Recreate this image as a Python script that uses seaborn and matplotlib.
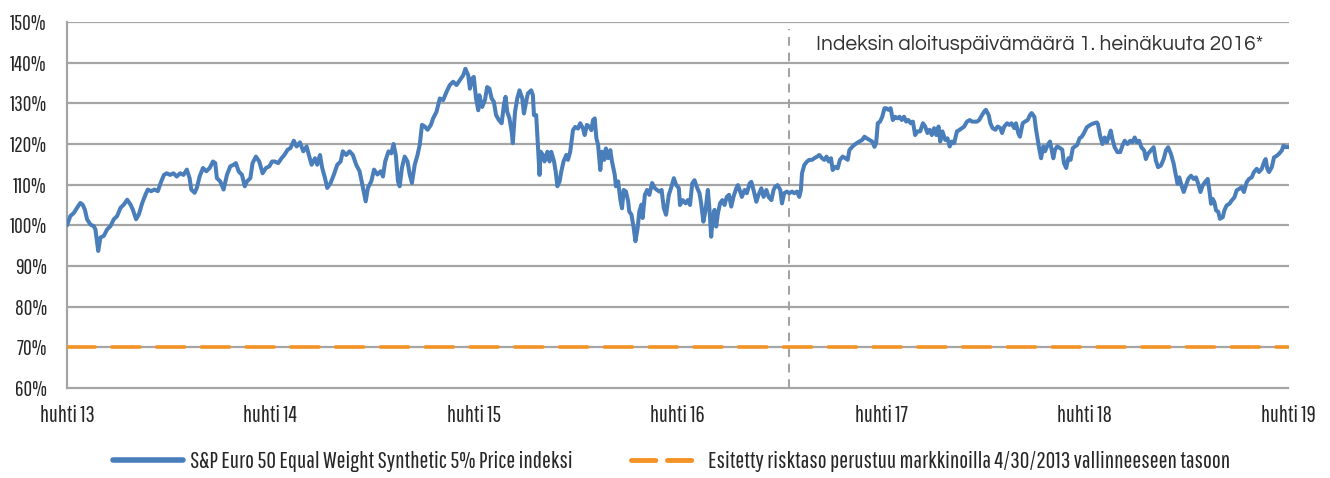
import matplotlib
matplotlib.use("Agg")
import matplotlib.pyplot as plt
import matplotlib.ticker as mticker
import numpy as np
import pandas as pd
import seaborn as sns

# ---------------- data ----------------
base_date = "2013-04-30"
index_days = [
    0, 6, 12, 18, 24, 28, 32, 36, 42, 48, 51, 56, 60, 66, 72, 78, 84, 90, 96, 102, 108, 114, 118, 124, 129, 135,
    141, 145, 151, 157, 163, 168, 174, 179, 185, 191, 197, 203, 209, 215, 220, 223, 229, 233, 238, 244, 250, 256,
    262, 266, 269, 275, 281, 287, 293, 299, 303, 308, 314, 319, 323, 329, 333, 339, 345, 351, 357, 363, 368,
    373, 379, 385, 390, 396, 401, 407, 412, 418, 424, 430, 434, 439, 445, 449, 454, 458, 463, 467, 473, 479, 485,
    491, 495, 501, 507, 513, 519, 525, 530, 536, 540, 546, 551, 557, 563, 567, 571, 577, 582, 586, 590, 594, 597,
    601, 606, 611, 615, 619, 624, 629, 633, 637, 642, 647, 653, 657, 663, 669, 675, 681, 687, 693, 699, 705, 711,
    715, 720, 723, 727,
    730, 734, 738, 740, 745, 750, 754, 758, 762, 766, 770, 775, 780, 784, 787, 790, 794, 798, 800, 804, 808, 812,
    817, 820, 824, 827, 833, 836, 838, 842, 845, 848, 850, 854, 857, 862, 866, 869, 874, 877, 880, 884, 887, 891,
    896, 899, 903, 908, 912, 917, 921, 926, 929, 933, 938, 941, 944, 947, 950, 953, 957, 960, 964, 967, 971, 975,
    978, 983, 985, 989, 993, 996, 999, 1003, 1007, 1009, 1013, 1017, 1020, 1024, 1027, 1031, 1033, 1037, 1041,
    1045, 1050, 1055, 1059, 1063, 1067, 1071, 1075, 1080, 1085, 1089, 1093, 1098,
    1100, 1105, 1110, 1114, 1118, 1122, 1126, 1130, 1135, 1138, 1142, 1146, 1150, 1153, 1156, 1159, 1162, 1165,
    1168, 1172, 1176, 1180, 1184, 1188, 1192, 1196, 1201, 1204, 1207, 1211, 1216, 1220, 1225, 1228, 1232, 1237,
    1241, 1246, 1250, 1255, 1259, 1264, 1268, 1271, 1275, 1280, 1283, 1287, 1292, 1296, 1301, 1305, 1310, 1314,
    1317, 1319, 1323, 1328, 1332, 1337, 1341, 1346, 1350, 1355, 1359, 1363, 1367, 1371, 1374, 1379, 1383, 1387,
    1392, 1397, 1401, 1404, 1409, 1413, 1417, 1422, 1427, 1431, 1435, 1440, 1445, 1449, 1452, 1455, 1459, 1463,
    1467,
    1470, 1474, 1478, 1482, 1486, 1490, 1494, 1498, 1502, 1506, 1510, 1514, 1518, 1522, 1526, 1531, 1536, 1540,
    1544, 1548, 1552, 1556, 1560, 1564, 1567, 1571, 1576, 1580, 1584, 1588, 1592, 1597, 1602, 1606, 1610, 1615,
    1620, 1624, 1628, 1633, 1637, 1642, 1646, 1649, 1654, 1657, 1661, 1666, 1670, 1675, 1678, 1682, 1687, 1691,
    1695, 1700, 1703, 1707, 1710, 1715, 1719, 1724, 1728, 1731, 1736, 1739, 1742, 1745, 1748, 1752, 1755, 1760,
    1764, 1767, 1770, 1773, 1777, 1782, 1786, 1789, 1793, 1797, 1801, 1805, 1809, 1813, 1817, 1821, 1825,
    1830, 1834, 1839, 1843, 1848, 1850, 1854, 1858, 1862, 1866, 1870, 1873, 1876, 1880, 1885, 1890, 1894, 1898,
    1903, 1908, 1912, 1916, 1920, 1924, 1928, 1933, 1936, 1940, 1945, 1950, 1954, 1958, 1963, 1968, 1972, 1976,
    1981, 1986, 1990, 1993, 1996, 2000, 2004, 2008, 2012, 2017, 2022, 2026, 2030, 2034, 2038, 2042, 2047, 2050,
    2053, 2056, 2059, 2062, 2066, 2069, 2074, 2077, 2081, 2086, 2090, 2095, 2099, 2104, 2108, 2112, 2117, 2121,
    2126, 2130, 2135, 2139, 2144, 2148, 2151, 2154, 2157, 2162, 2166, 2171, 2175, 2180, 2183, 2187, 2190, 2192,
]
index_values = [
    100.0, 102.3, 103.0, 104.3, 105.5, 105.1, 103.9, 101.5, 100.2, 99.8, 99.0, 93.7, 97.0, 97.4, 99.0, 99.8, 101.5,
    102.3, 104.3, 105.1, 106.3, 105.1, 103.9, 101.5, 102.7, 105.5, 107.6, 108.8, 108.4, 108.8, 108.4, 110.4, 112.4,
    112.8, 112.4, 112.8, 112.0, 112.8, 112.4, 113.7, 111.6, 108.8, 108.0, 109.2, 112.0, 114.1, 113.3, 114.1, 115.7,
    115.3, 111.6, 110.8, 108.8, 112.4, 114.5, 114.9, 115.3, 113.3, 112.4, 109.6, 110.8, 111.6, 115.3, 116.9, 115.7,
    112.8, 114.1, 114.5, 115.7,
    115.7, 115.3, 116.5, 117.3, 118.6, 119.0, 120.8, 119.4, 120.4, 118.2, 119.4, 117.3, 114.9, 116.5, 114.9, 117.3,
    114.1, 111.6, 109.2, 110.4, 112.5, 114.9, 115.7, 118.2, 117.3, 118.2, 117.3, 114.9, 113.3, 110.0, 105.9, 109.2,
    110.8, 113.7, 112.5, 113.3, 112.0, 115.7, 118.2, 117.7, 120.0, 117.3, 110.8, 109.6, 114.1, 116.9, 115.7, 112.5,
    110.4, 114.9, 117.3, 119.8, 124.7, 124.3, 123.5, 124.7, 126.3, 127.9, 131.2, 130.8, 132.8, 134.5, 135.3, 134.5,
    135.7, 136.9, 138.5, 136.9, 133.6, 136.1,
    136.5, 131.2, 128.3, 132.0, 129.1, 130.8, 134.0, 133.6, 131.2, 130.4, 127.1, 125.9, 125.1, 129.6, 131.6, 127.9,
    126.3, 123.0, 120.2, 127.9, 131.2, 133.2, 131.2, 127.5, 130.4, 132.4, 133.2, 132.0, 127.1, 127.1, 119.8, 112.4,
    118.1, 117.3, 115.7, 118.1, 115.7, 118.1, 115.7, 113.2, 109.6, 110.8, 113.2, 115.7, 117.3, 116.1, 118.1, 123.4,
    124.2, 123.8, 125.1, 123.8, 122.2, 124.7, 124.2, 123.4, 125.9, 126.3, 121.4, 119.8, 113.6, 118.1, 116.1, 118.9,
    116.5, 118.5, 115.7, 112.4, 109.6, 110.8, 106.3, 104.2, 108.7, 108.3, 105.9, 103.4, 102.6, 99.3, 96.1, 99.3,
    103.4, 105.1, 101.8, 107.5, 108.7, 107.5, 110.4, 109.1, 108.7, 108.3, 108.7, 104.2, 102.6, 107.5, 109.6, 111.6,
    110.0, 109.1,
    105.0, 106.2, 105.4, 106.2, 105.0, 110.3, 111.1, 109.5, 107.9, 105.4, 100.9, 103.8, 108.7, 103.8, 97.2, 102.1,
    103.8, 99.7, 102.9, 105.4, 106.2, 105.0, 107.0, 107.5, 104.6, 107.0, 109.1, 109.9, 108.7, 107.0, 108.7, 107.9,
    110.3, 110.7, 108.7, 105.8, 107.5, 109.1, 107.0, 108.7, 107.0, 106.2, 108.7, 109.5, 109.9, 108.7, 105.4, 107.9,
    108.3, 107.9, 108.3, 107.9, 108.3, 107.0, 108.7, 112.8, 114.8, 115.7, 116.1, 116.1, 116.5, 116.9, 117.3, 116.5,
    116.1, 116.9, 115.7, 116.5, 113.6, 114.4, 114.0, 116.1, 116.9, 116.5, 116.1, 118.5, 119.3, 119.8, 120.2, 120.6,
    121.0, 121.8, 121.4, 121.0, 120.6, 119.3, 120.2, 125.1, 125.5, 126.7, 128.8,
    128.8, 128.4, 128.8, 125.9, 126.7, 126.3, 126.7, 125.9, 126.7, 125.5, 125.9, 125.1, 125.5, 122.2, 123.1, 123.1,
    125.1, 124.3, 122.7, 123.5, 122.2, 123.9, 122.2, 124.3, 120.6, 123.1, 121.0, 121.4, 119.4, 120.6, 120.2, 123.1,
    123.5, 123.9, 124.3, 125.5, 125.9, 125.5, 125.5, 125.5, 125.9, 127.1, 128.0, 128.4, 127.1, 125.1, 123.9, 123.5,
    124.3, 123.9, 122.7, 124.3, 125.1, 124.7, 125.1, 123.9, 125.1, 122.7, 121.8, 125.1, 125.5, 125.9, 127.1, 127.6,
    126.7, 123.5, 121.0, 118.6, 116.5, 119.4, 118.2, 119.8, 120.6, 118.6, 116.5, 118.6, 119.4, 119.0, 118.6, 115.3,
    114.1, 116.5, 116.1, 119.0, 119.4, 119.8, 121.4, 121.8, 122.7,
    124.1, 124.5, 124.9, 125.1, 125.3, 124.9, 122.0, 120.0, 121.6, 120.4, 122.0, 123.3, 121.2, 119.2, 118.0, 118.0,
    119.6, 120.8, 120.0, 120.8, 120.4, 121.6, 120.4, 120.8, 119.2, 118.4, 116.3, 117.6, 118.4, 119.2, 115.9, 114.3,
    114.7, 116.3, 118.4, 119.2, 117.6, 115.1, 112.2, 110.2, 111.8, 109.8, 108.2, 109.8, 111.4, 112.2, 111.4, 111.8,
    110.2, 108.2, 109.8, 110.6, 111.4, 108.6, 105.3, 106.5, 105.7, 103.7, 103.3, 101.6, 102.0, 103.7, 104.9, 105.3,
    106.1, 106.9, 108.6, 109.0, 109.4, 108.2, 110.6, 111.4, 111.8, 113.1, 113.9, 113.1, 113.9, 115.5, 116.3, 113.9,
    113.1, 114.3, 116.7, 117.1, 117.6, 118.4, 119.6, 119.2, 119.3, 119.2,
]
risk_level = 70.0
launch_marker_day = 1296
tick_days = [0, 365, 730, 1096, 1461, 1826, 2191]
tick_labels = ["huhti 13", "huhti 14", "huhti 15", "huhti 16", "huhti 17", "huhti 18", "huhti 19"]
y_ticks = [60, 70, 80, 90, 100, 110, 120, 130, 140, 150]
series_label = "S&P Euro 50 Equal Weight Synthetic 5% Price indeksi"
risk_label = "Esitetty risktaso perustuu markkinoilla 4/30/2013 vallinneeseen tasoon"
annotation = "Indeksin aloituspäivämäärä 1. heinäkuuta 2016*"

# ---------------- styling ----------------
sns.set_theme(style="white")
NARROW = ["Pathway Gothic One", "Roboto Condensed", "DejaVu Sans"]
plt.rcParams["font.family"] = NARROW

BLUE = "#4a7ebb"
ORANGE = "#f39325"
GRID = "#a5a5a5"
TEXT = "#262626"

base = pd.Timestamp(base_date)
dates = base + pd.to_timedelta(index_days, unit="D")
df = pd.DataFrame({"date": dates, "value": index_values})
end_date = base + pd.Timedelta(days=2192)
risk_df = pd.DataFrame({"date": [base, end_date], "value": [risk_level, risk_level]})

fig = plt.figure(figsize=(13.3, 4.78), dpi=100)
ax = fig.add_axes([67 / 1330, 1 - 388 / 478, (1288.5 - 67) / 1330, (388 - 22) / 478])

for yv in y_ticks[1:]:
    ax.axhline(yv, color=GRID, lw=1.6, zorder=1)

sns.lineplot(data=risk_df, x="date", y="value", ax=ax, color=ORANGE, lw=2.6,
             dashes=False, label=risk_label, zorder=3)
ax.lines[-1].set_dashes([7.8, 4.6])
ax.lines[-1].set_dash_capstyle("round")

sns.lineplot(data=df, x="date", y="value", ax=ax, color=BLUE, lw=2.9,
             label=series_label, zorder=4)

ax.axvline(base + pd.Timedelta(days=launch_marker_day), ymin=0, ymax=0.98,
           color="#a0a0a0", lw=1.4, ls=(0, (4.5, 3.5)), zorder=2)

ax.text((816 - 67) / 1221.5, (388 - 45) / 366, annotation, transform=ax.transAxes,
        ha="left", va="center", fontsize=15, color="#333333",
        family=["Questrial", "DejaVu Sans"])

ax.set_xlim(base, end_date)
ax.set_ylim(60, 150)
ax.set_xticks(base + pd.to_timedelta(tick_days, unit="D"))
ax.set_xticklabels(tick_labels)
ax.set_yticks(y_ticks)
ax.yaxis.set_major_formatter(mticker.FuncFormatter(lambda v, p: f"{v:.0f}%"))
ax.set_xlabel("")
ax.set_ylabel("")

for s in ["top", "right"]:
    ax.spines[s].set_visible(False)
for s in ["left", "bottom"]:
    ax.spines[s].set_color(GRID)
    ax.spines[s].set_linewidth(1.6)
ax.tick_params(axis="both", which="major", direction="out", length=6, width=1.4,
               color=GRID, labelcolor=TEXT, labelsize=15, pad=3)
ax.tick_params(axis="y", labelsize=15.3, pad=8.5)
ax.tick_params(axis="x", labelsize=16.3, pad=6)

handles, labels = ax.get_legend_handles_labels()
order = [labels.index(series_label), labels.index(risk_label)]
ax.legend_.remove()
leg = fig.legend([handles[i] for i in order], [labels[i] for i in order],
                 loc="center", bbox_to_anchor=(0.505, 0.034), ncol=2, frameon=False,
                 fontsize=17, handlelength=2.95, handletextpad=0.3, columnspacing=2.5)
for t in leg.get_texts():
    t.set_color(TEXT)
leg.legend_handles[0].set_linewidth(4)
leg.legend_handles[1].set_linewidth(3.5)
leg.legend_handles[1].set_dashes([5.0, 2.4])

fig.savefig("out.png", dpi=100)
